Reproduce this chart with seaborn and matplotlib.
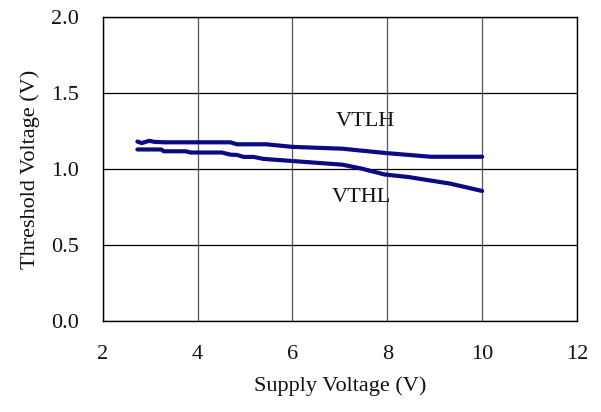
import seaborn as sns
import matplotlib.pyplot as plt
import pandas as pd

# VTLH (upper curve) and VTHL (lower curve)
vtlh_x = [2.73, 2.82, 2.98, 3.09, 3.3, 4.69, 4.83, 5.45, 6.0, 7.05, 7.95, 8.92, 10.0]
vtlh_y = [1.180, 1.170, 1.185, 1.178, 1.175, 1.175, 1.162, 1.162, 1.145, 1.133, 1.105, 1.080, 1.080]
vthl_x = [2.73, 3.23, 3.29, 3.75, 3.85, 4.51, 4.69, 4.83, 4.97, 5.18, 5.39, 6.0, 7.05,
          7.46, 7.95, 8.44, 9.33, 10.0]
vthl_y = [1.128, 1.128, 1.116, 1.116, 1.108, 1.108, 1.094, 1.092, 1.079, 1.079, 1.066,
          1.052, 1.028, 1.002, 0.963, 0.947, 0.903, 0.855]

x_ticks = [2, 4, 6, 8, 10, 12]
y_ticks = [0.0, 0.5, 1.0, 1.5, 2.0]

df = pd.concat([
    pd.DataFrame({"vdd": vtlh_x, "vt": vtlh_y, "curve": "VTLH"}),
    pd.DataFrame({"vdd": vthl_x, "vt": vthl_y, "curve": "VTHL"}),
])

sns.set_theme(style="white")
plt.rcParams['font.family'] = ['Liberation Serif', 'DejaVu Serif']

fig = plt.figure(figsize=(6.01, 4.12), dpi=100)
ax = fig.add_axes([0.171, 0.221, 0.789, 0.738])

sns.lineplot(data=df, x="vdd", y="vt", hue="curve", palette=["#0a0a82", "#0a0a82"],
             sort=False, estimator=None, linewidth=3.0, legend=False, ax=ax)

ax.set_xlim(2, 12)
ax.set_ylim(0, 2.0)
ax.set_xticks(x_ticks)
ax.set_yticks(y_ticks)
ax.set_yticklabels([f"{v:.1f}" for v in y_ticks])
ax.grid(True, axis='x', color='#555555', linewidth=0.9)
ax.grid(True, axis='y', color='black', linewidth=0.9)
ax.set_axisbelow(True)
for s in ax.spines.values():
    s.set_color('black')
    s.set_linewidth(1.0)

ax.tick_params(axis='both', length=0, labelsize=16, colors='#111111')
ax.tick_params(axis='y', pad=17)
ax.tick_params(axis='x', pad=17)

ax.set_xlabel('Supply Voltage (V)', fontsize=16, labelpad=9, color='#111111')
ax.set_ylabel('Threshold Voltage (V)', fontsize=16, labelpad=8, color='#111111')

ax.text(7.54, 1.31, 'VTLH', fontsize=16, ha='center', va='center', color='#111111')
ax.text(7.46, 0.81, 'VTHL', fontsize=16, ha='center', va='center', color='#111111')

plt.savefig('out.png', dpi=100)
plt.close()
